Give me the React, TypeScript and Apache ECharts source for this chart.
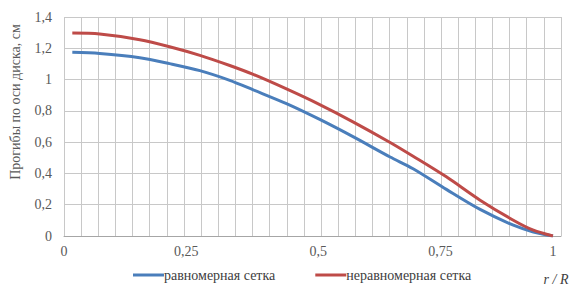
import React, { useEffect, useRef } from "react";
import * as echarts from "echarts";

// r / R positions of the mesh nodes
const rValues = [0.017, 0.073, 0.155, 0.216, 0.278, 0.339, 0.387, 0.455, 0.523, 0.591, 0.667, 0.714, 0.782, 0.851, 0.919, 0.96, 1.0];
// deflection along the disc axis, cm
const uniformMesh = [1.174, 1.167, 1.14, 1.102, 1.057, 0.995, 0.934, 0.846, 0.745, 0.635, 0.505, 0.43, 0.298, 0.17, 0.069, 0.026, 0];
const nonUniformMesh = [1.297, 1.291, 1.255, 1.21, 1.155, 1.09, 1.033, 0.94, 0.84, 0.73, 0.598, 0.51, 0.378, 0.229, 0.101, 0.037, 0];

const seriesNames = ["равномерная сетка", "неравномерная сетка"];
const xTickPositions = [0, 0.25, 0.52, 0.77, 1];
const xTickLabels = ["0", "0,25", "0,5", "0,75", "1"];
const yAxisTitle = "Прогибы по оси диска, см";
const xAxisTitle = "r / R";

const FONT = "Liberation Serif";

export default function App() {
  const ref = useRef<HTMLDivElement>(null);
  useEffect(() => {
    if (!ref.current) return;
    const chart = echarts.init(ref.current, undefined, { renderer: "svg" });
    const gridStep = 0.03505;
    chart.setOption({
      animation: false,
      backgroundColor: "#ffffff",
      textStyle: { fontFamily: FONT },
      grid: { left: 64, top: 17, right: 16, bottom: 49, containLabel: false },
      legend: {
        left: 128,
        top: 263,
        itemWidth: 31,
        itemHeight: 3,
        itemGap: 40,
        icon: "rect",
        textStyle: { fontFamily: FONT, fontSize: 14, color: "#404040", padding: [0, 0, 0, -5] },
        data: seriesNames,
      },
      xAxis: {
        type: "value",
        min: 0,
        max: gridStep * 29,
        interval: gridStep,
        axisLine: { show: true, lineStyle: { color: "#A6A6A6", width: 1 } },
        axisTick: { show: false },
        splitLine: { show: true, lineStyle: { color: "#C8C8C8", width: 1 } },
        axisLabel: {
          customValues: xTickPositions,
          margin: 8,
          fontFamily: FONT,
          fontSize: 14,
          color: "#595959",
          formatter: (v: number) => {
            const i = xTickPositions.findIndex((p) => Math.abs(p - v) < 1e-6);
            return i >= 0 ? xTickLabels[i] : "";
          },
        },
      },
      yAxis: {
        type: "value",
        min: 0,
        max: 1.4,
        interval: 0.2,
        axisLine: { show: false },
        axisTick: { show: false },
        splitLine: { show: true, lineStyle: { color: "#C8C8C8", width: 1 } },
        axisLabel: {
          margin: 12,
          fontFamily: FONT,
          fontSize: 14,
          color: "#595959",
          formatter: (v: number) => String(+v.toFixed(1)).replace(".", ","),
        },
      },
      series: [
        {
          name: seriesNames[0],
          type: "line",
          data: rValues.map((r, i) => [r, uniformMesh[i]]),
          showSymbol: false,
          smooth: 0.3,
          color: "#4A7EBB",
          lineStyle: { width: 3, color: "#4A7EBB" },
          z: 3,
        },
        {
          name: seriesNames[1],
          type: "line",
          data: rValues.map((r, i) => [r, nonUniformMesh[i]]),
          showSymbol: false,
          smooth: 0.3,
          color: "#BE4B48",
          lineStyle: { width: 3, color: "#BE4B48" },
          z: 4,
        },
      ],
      graphic: [
        {
          type: "text",
          x: 15,
          y: 102,
          rotation: Math.PI / 2,
          style: {
            text: yAxisTitle,
            fontFamily: FONT,
            fontSize: 14,
            fill: "#595959",
            textAlign: "center",
            textVerticalAlign: "middle",
          },
        },
        {
          type: "text",
          x: 556,
          y: 279,
          style: {
            text: xAxisTitle,
            fontFamily: FONT,
            fontSize: 14,
            fontStyle: "italic",
            fill: "#404040",
            textAlign: "center",
            textVerticalAlign: "middle",
          },
        },
      ],
    });
    return () => chart.dispose();
  }, []);
  return (
    <div
      ref={ref}
      style={{ position: "fixed", left: 0, top: 0, width: 577, height: 285, background: "#fff" }}
    />
  );
}
